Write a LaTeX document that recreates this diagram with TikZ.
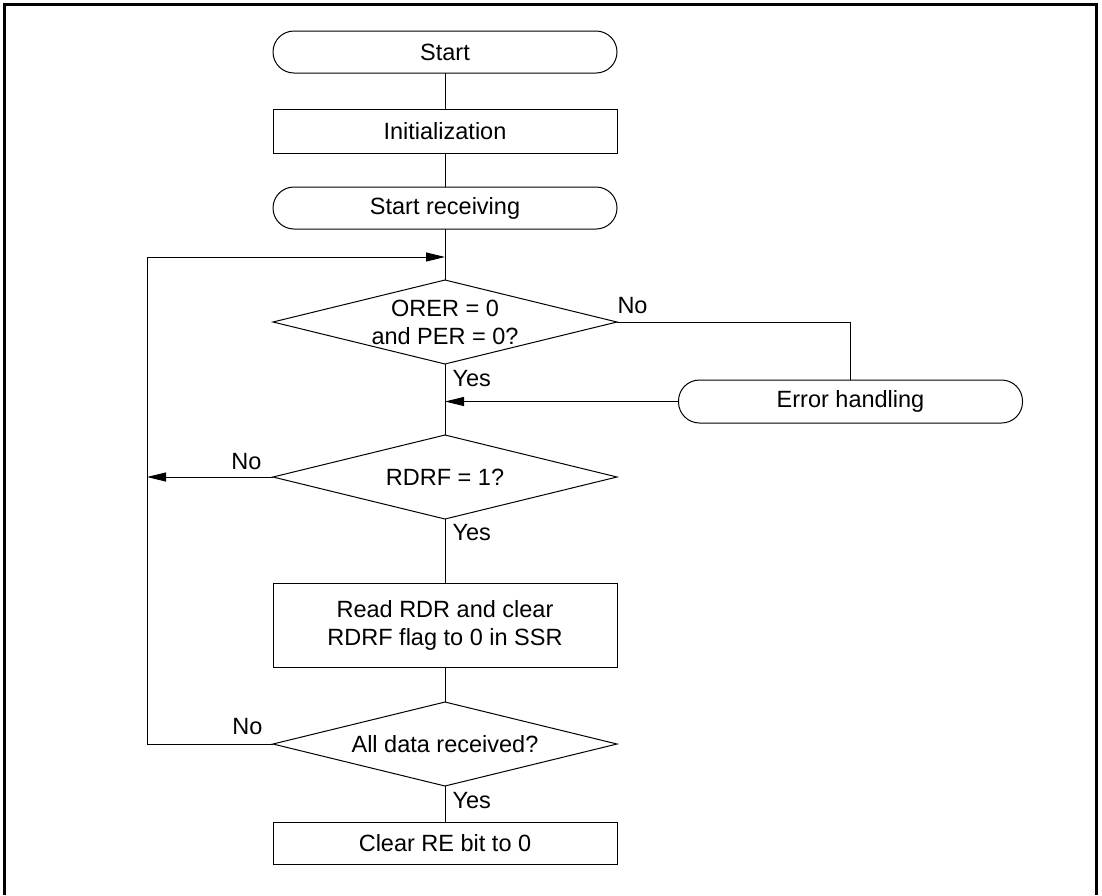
\documentclass[tikz,border=0pt]{standalone}
\usepackage{fontspec}
\setmainfont{Liberation Sans}
\usepackage{tikz}
\usetikzlibrary{arrows.meta,positioning,shapes.geometric}
\tikzset{
  terminal/.style={draw, rounded corners=21pt, minimum width=344pt,
    minimum height=42pt, inner sep=0pt, outer sep=0pt},
  process/.style={draw, align=center, minimum width=344pt,
    minimum height=44pt, inner sep=0pt, outer sep=0pt},
  decision/.style={diamond, draw, minimum width=344pt,
    minimum height=84pt, inner sep=0pt, outer sep=0pt},
  dtext/.style={align=center, inner sep=0pt},
  branch/.style={inner sep=0pt},
  arrow/.style={-{Triangle[length=19pt,width=9pt]}}
}

\begin{document}
\begin{tikzpicture}[x=1pt, y=-1pt, line width=1pt,
    font=\fontsize{23.5}{28}\selectfont]
        \useasboundingbox (0,0) rectangle (1102,895);
        \draw[line width=3pt] (4.5,895) -- (4.5,4.5) -- (1096,4.5) -- (1096,895);
        \node[terminal] (start) at (445,52) {Start};
        \node[process, below=36pt of start] (init) {Initialization};
        \node[terminal, below=34pt of init] (recv) {Start receiving};
        \coordinate[below=28pt of recv] (join);
        \node[decision, below=51pt of recv,
          label={[dtext]center:ORER = 0\\and PER = 0?}] (orer) {};
        \node[terminal, minimum height=43pt] (errh) at (850.5,401.5) {Error handling};
        \node[decision, below=71pt of orer,
          label={[dtext]center:RDRF = 1?}] (rdrf) {};
        \node[process, minimum height=84pt, below=64pt of rdrf] (read)
          {Read RDR and clear\\RDRF flag to 0 in SSR};
        \node[decision, below=35pt of read,
          label={[dtext]center:All data received?}] (alldata) {};
        \node[process, minimum height=42pt, below=36pt of alldata] (clear) {Clear RE bit to 0};
        \coordinate (ltop) at (147,257);
        \coordinate (lbot) at (alldata.west -| ltop);
        % main line
        \draw (start) -- (init);
        \draw (init) -- (recv);
        \draw (recv) -- (orer);
        \draw (orer) -- (rdrf);
        \draw (rdrf) -- (read);
        \draw (read) -- (alldata);
        \draw (alldata) -- (clear);
        % branches
        \draw (orer.east) -| (errh.north);
        \draw[arrow] (errh.west) -- (errh.west -| orer.south);
        \draw[arrow] (rdrf.west) -- (rdrf.west -| ltop);
        \draw[arrow] (alldata.west) -- (lbot) -- (ltop) -- (join);
        % labels
        \node[branch, anchor=south west] (no1) at ([shift={(0,-8)}]orer.east) {No};
        \node[branch, anchor=north west] (yes1) at ([shift={(7,6)}]orer.south) {Yes};
        \node[branch, anchor=south east] (no2) at ([shift={(-11,-7)}]rdrf.west) {No};
        \node[branch, anchor=north west] (yes2) at ([shift={(7,5)}]rdrf.south) {Yes};
        \node[branch, anchor=south east] (no3) at ([shift={(-10,-9)}]alldata.west) {No};
        \node[branch, anchor=north west] (yes3) at ([shift={(7,6)}]alldata.south) {Yes};
\end{tikzpicture}
\end{document}
